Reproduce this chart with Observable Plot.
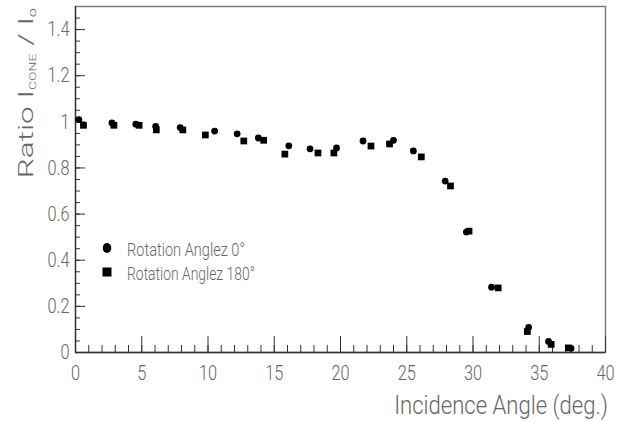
<!DOCTYPE html>
<html><head><meta charset="utf-8">
<script src="https://cdn.jsdelivr.net/npm/d3@7"></script>
<script src="https://cdn.jsdelivr.net/npm/@observablehq/plot@0.6"></script>
<style>body{margin:0;background:#fff;} #chart{width:622px;height:421px;}</style>
</head><body><div id="chart"></div>
<script>
// Rotation angle 0° (circles)
const rot0Angle = [0.25, 2.75, 4.55, 6.05, 7.9, 10.5, 12.2, 13.8, 16.1, 17.7, 19.7, 21.7, 24.0, 25.5, 27.9, 29.5, 31.4, 34.2, 35.7, 37.4];
const rot0Ratio = [1.01, 0.995, 0.99, 0.98, 0.975, 0.96, 0.948, 0.93, 0.896, 0.883, 0.887, 0.917, 0.92, 0.874, 0.743, 0.522, 0.283, 0.109, 0.048, 0.018];
// Rotation angle 180° (squares)
const rot180Angle = [0.6, 2.9, 4.8, 6.1, 8.1, 9.8, 12.7, 14.2, 15.8, 18.3, 19.5, 22.3, 23.7, 26.1, 28.3, 29.7, 31.9, 34.1, 35.9, 37.2];
const rot180Ratio = [0.985, 0.985, 0.985, 0.965, 0.965, 0.943, 0.917, 0.92, 0.86, 0.865, 0.865, 0.895, 0.904, 0.848, 0.722, 0.526, 0.28, 0.091, 0.035, 0.02];

const xMajorTicks = [0, 5, 10, 15, 20, 25, 30, 35, 40];
const xMinorTicks = d3.range(0, 41, 1);
const yMajorTicks = [0, 0.2, 0.4, 0.6, 0.8, 1, 1.2, 1.4];
const yMinorTicks = d3.range(0, 30).map(i => +(i * 0.05).toFixed(2));
const xTitle = "Incidence Angle (deg.)";
const legendLabels = ["Rotation Anglez 0°", "Rotation Anglez 180°"];

const rot0 = rot0Angle.map((a, i) => ({angle: a, ratio: rot0Ratio[i]}));
const rot180 = rot180Angle.map((a, i) => ({angle: a, ratio: rot180Ratio[i]}));

const FONT = "Roboto, 'Liberation Sans', Arial, sans-serif";
const TXT = "#666";

const plot = Plot.plot({
  width: 622, height: 421,
  marginLeft: 75, marginRight: 17, marginTop: 6, marginBottom: 69,
  x: {domain: [0, 40], label: null},
  y: {domain: [0, 1.5], label: null},
  style: {fontFamily: FONT, fontWeight: 300, background: "white", color: TXT},
  marks: [
    Plot.frame({stroke: "#777", strokeWidth: 1.4}),
    Plot.axisX({ticks: xMinorTicks, tickSize: -7, tickFormat: () => "", stroke: "#333", label: null}),
    Plot.axisX({ticks: xMajorTicks, tickSize: -16, tickFormat: () => "", stroke: "#333", label: null}),
    Plot.axisX({ticks: xMajorTicks, tickSize: 0, tickPadding: 13, fontSize: 21, fill: TXT, label: null}),
    Plot.axisY({ticks: yMinorTicks, tickSize: -5, tickFormat: () => "", stroke: "#333", label: null}),
    Plot.axisY({ticks: yMajorTicks, tickSize: -10, tickFormat: () => "", stroke: "#333", label: null}),
    Plot.axisY({ticks: yMajorTicks, tickSize: 0, tickPadding: 6, fontSize: 21, fill: TXT, tickFormat: d => String(d), label: null}),
    Plot.ruleX([0], {stroke: "#333", strokeWidth: 1.3}),
    Plot.ruleY([0], {stroke: "#333", strokeWidth: 1.3}),
    Plot.dot(rot180, {x: "angle", y: "ratio", symbol: "square", r: 3.8, fill: "black", stroke: "none"}),
    Plot.dot(rot0, {x: "angle", y: "ratio", symbol: "circle", r: 3.4, fill: "black", stroke: "none"})
  ]
});
document.getElementById("chart").appendChild(plot);

const svg = d3.select(plot);
// horizontal squeeze of tick labels about their anchor x
function squeeze(sel, s) {
  sel.each(function() {
    const t = this.getAttribute("transform") || "";
    let x = parseFloat(this.getAttribute("x"));
    if (!isFinite(x)) x = 0;
    this.setAttribute("transform", `${t} translate(${x},0) scale(${s},1) translate(${-x},0)`);
  });
}
squeeze(svg.selectAll("g[aria-label='x-axis tick label'] text"), 0.78);
squeeze(svg.selectAll("g[aria-label='y-axis tick label'] text"), 0.78);

// fit a horizontal text to a target width by scaling x
function fitText(el, x, y, width) {
  const w = el.node().getComputedTextLength() || width;
  el.attr("transform", `translate(${x},${y}) scale(${Math.min(1, width / w)},1)`);
}

// x title
const xt = svg.append("text")
  .attr("text-anchor", "end")
  .attr("font-family", FONT).attr("font-weight", 300).attr("font-size", 25).attr("fill", TXT)
  .text(xTitle);
fitText(xt, 608, 414, 214);

// y title
const yt = svg.append("text")
  .attr("transform", "translate(33,8) rotate(-90) scale(1.17,0.74)")
  .attr("text-anchor", "end")
  .attr("font-family", FONT).attr("font-weight", 300).attr("font-size", 27).attr("fill", TXT);
yt.append("tspan").text("Ratio I");
yt.append("tspan").attr("font-size", 12).attr("dy", 4).text("CONE");
yt.append("tspan").attr("dy", -4).text(" / I");
yt.append("tspan").attr("font-size", 14).attr("dy", 4).text("o");

// legend
const lg = svg.append("g");
lg.append("ellipse").attr("cx", 107).attr("cy", 248).attr("rx", 4.3).attr("ry", 5).attr("fill", "black");
lg.append("rect").attr("x", 102.5).attr("y", 267.5).attr("width", 9).attr("height", 9).attr("fill", "black");
legendLabels.forEach((lab, i) => {
  const t = lg.append("text")
    .attr("text-anchor", "start")
    .attr("font-family", FONT).attr("font-weight", 300).attr("font-size", 18).attr("fill", TXT)
    .text(lab);
  fitText(t, 127, 256 + i * 23.5, i === 0 ? 118 : 128);
});
</script>
</body></html>
